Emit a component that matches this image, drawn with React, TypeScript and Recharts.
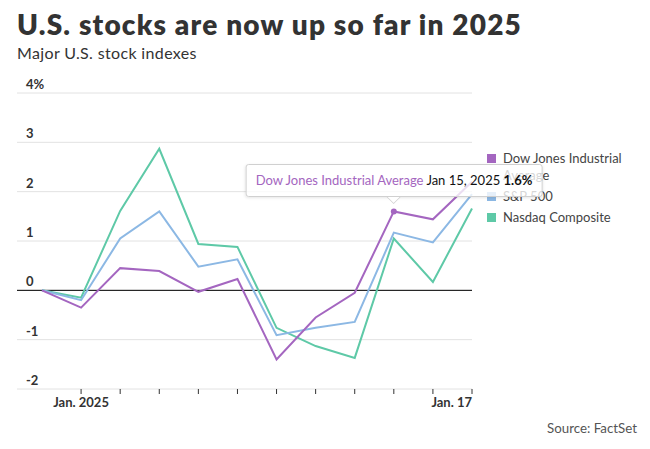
import React from "react";
import { LineChart, Line, XAxis, YAxis, CartesianGrid, Tooltip, ReferenceLine } from "recharts";

const dates = [
  "Dec 31, 2024",
  "Jan 2, 2025",
  "Jan 3, 2025",
  "Jan 6, 2025",
  "Jan 7, 2025",
  "Jan 8, 2025",
  "Jan 10, 2025",
  "Jan 13, 2025",
  "Jan 14, 2025",
  "Jan 15, 2025",
  "Jan 16, 2025",
  "Jan 17, 2025",
];
const dow = [0, -0.35, 0.45, 0.39, -0.03, 0.23, -1.4, -0.55, -0.05, 1.6, 1.44, 2.2];
const sp500 = [0, -0.2, 1.05, 1.6, 0.48, 0.63, -0.91, -0.76, -0.64, 1.17, 0.97, 1.95];
const nasdaq = [0, -0.15, 1.61, 2.87, 0.94, 0.88, -0.76, -1.13, -1.37, 1.05, 0.17, 1.66];

const yTicks = [-2, -1, 0, 1, 2, 3, 4];
const xTickLabels: Record<string, string> = {
  "Jan 2, 2025": "Jan. 2025",
  "Jan 17, 2025": "Jan. 17",
};

const series = [
  { key: "dow", name: "Dow Jones Industrial Average", color: "#a466c0" },
  { key: "sp500", name: "S&P 500", color: "#8cb8e4" },
  { key: "nasdaq", name: "Nasdaq Composite", color: "#5ec9a7" },
];

const data = dates.map((date, i) => ({
  date,
  dow: dow[i],
  sp500: sp500[i],
  nasdaq: nasdaq[i],
}));

const FONT = "Lato, 'Noto Sans', sans-serif";
const TEXT = "#333";
const PLOT_LEFT = 17;

function YTick(props: any) {
  const { y, payload } = props;
  const v = payload.value;
  return (
    <text x={PLOT_LEFT + 9} y={y - 4} fill={TEXT} fontSize={13} fontWeight={700} fontFamily={FONT} textAnchor="start">
      {v === 4 ? "4%" : String(v)}
    </text>
  );
}

function XTick(props: any) {
  const { x, y, payload, index, visibleTicksCount } = props;
  const label = xTickLabels[payload.value];
  if (!label) return null;
  const last = index === visibleTicksCount - 1;
  return (
    <text x={x} y={y + 11} textAnchor={last ? "end" : "middle"} fill={TEXT} fontSize={13} fontWeight={700} fontFamily={FONT}>
      {label}
    </text>
  );
}

function TipBox(props: any) {
  const { payload, label } = props;
  if (!payload || !payload.length) return null;
  const item = payload.find((p: any) => p.dataKey === "dow") || payload[0];
  return (
    <div style={{ position: "relative", transform: "translateX(-50%)", whiteSpace: "nowrap" }}>
      <div
        style={{
          background: "rgba(255,255,255,0.78)",
          border: "1px solid #d0d0d0",
          borderRadius: 3,
          boxShadow: "0 1px 3px rgba(0,0,0,0.10)",
          padding: "7px 9px 7px 9px",
          fontFamily: FONT,
          fontSize: 13,
          lineHeight: "17px",
          color: "#111",
        }}
      >
        <span style={{ color: series[0].color }}>{item.name}</span> {label}{" "}
        <b>{`${Number(item.value).toFixed(1)}%`}</b>
      </div>
      <div
        style={{
          position: "absolute",
          left: "50%",
          bottom: -7,
          marginLeft: -7,
          width: 0,
          height: 0,
          borderLeft: "7px solid transparent",
          borderRight: "7px solid transparent",
          borderTop: "7px solid #d0d0d0",
        }}
      />
      <div
        style={{
          position: "absolute",
          left: "50%",
          bottom: -6,
          marginLeft: -6,
          width: 0,
          height: 0,
          borderLeft: "6px solid transparent",
          borderRight: "6px solid transparent",
          borderTop: "6px solid #fff",
        }}
      />
    </div>
  );
}

export default function App() {
  return (
    <div style={{ position: "absolute", left: 0, top: 0, width: 650, height: 449, background: "#fff", fontFamily: FONT, color: TEXT }}>
      <div style={{ position: "absolute", left: 17, top: 10, fontSize: 28, lineHeight: "28px", fontWeight: 800, letterSpacing: 1.2, whiteSpace: "nowrap" }}>
        U.S. stocks are now up so far in 2025
      </div>
      <div style={{ position: "absolute", left: 17, top: 45, fontSize: 16, lineHeight: "16px", fontWeight: 400, letterSpacing: 0.35, whiteSpace: "nowrap" }}>
        Major U.S. stock indexes
      </div>

      <div style={{ position: "absolute", left: 487, top: 150, width: 145, fontSize: 13, lineHeight: "17px", color: "#444" }}>
        {series.map((s) => (
          <div key={s.key} style={{ position: "relative", paddingLeft: 16, marginBottom: 4 }}>
            <span style={{ position: "absolute", left: 0, top: 4, width: 9, height: 9, background: s.color }} />
            {s.name}
          </div>
        ))}
      </div>

      <div style={{ position: "absolute", right: 13, top: 420, fontSize: 13.3, lineHeight: "16px", color: "#555" }}>
        Source: FactSet
      </div>

      <div style={{ position: "absolute", left: 0, top: 0 }}>
        <LineChart width={650} height={449} data={data} margin={{ top: 93, right: 178, bottom: 30, left: 0 }}>
          <CartesianGrid vertical={false} stroke="#e2e2e2" />
          <XAxis
            dataKey="date"
            ticks={dates.slice(1)}
            interval={0}
            padding={{ left: 25, right: 0 }}
            axisLine={false}
            tickLine={{ stroke: "#333" }}
            tickSize={5}
            height={30}
            tick={<XTick />}
          />
          <YAxis
            domain={[-2, 4]}
            ticks={yTicks}
            interval={0}
            width={PLOT_LEFT}
            axisLine={false}
            tickLine={false}
            tick={<YTick />}
          />
          <ReferenceLine y={0} stroke="#000" strokeWidth={1} />
          <Tooltip
            defaultIndex={9}
            active
            cursor={false}
            isAnimationActive={false}
            position={{ x: 394, y: 164 }}
            content={<TipBox />}
            wrapperStyle={{ outline: "none" }}
          />
          {series
            .slice()
            .reverse()
            .map((s) => (
              <Line
                key={s.key}
                type="linear"
                dataKey={s.key}
                name={s.name}
                stroke={s.color}
                strokeWidth={2}
                dot={false}
                activeDot={s.key === "dow" ? { r: 3, fill: s.color, stroke: "none" } : false}
                isAnimationActive={false}
              />
            ))}
        </LineChart>
      </div>
    </div>
  );
}
